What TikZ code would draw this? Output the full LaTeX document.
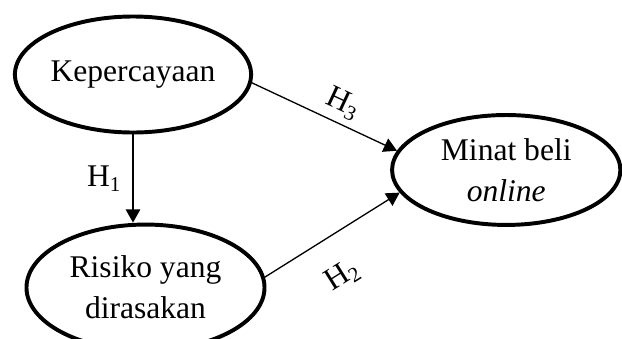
\documentclass[tikz,border=0pt]{standalone}
\usepackage{fontspec}
\setmainfont{Liberation Serif}
\usepackage{tikz}
\usetikzlibrary{positioning,shapes.geometric,arrows.meta}

\begin{document}
\begin{tikzpicture}[x=0.3802pt,y=-0.3802pt,
    var/.style={ellipse,draw,line width=1.5pt,inner sep=0pt,align=center,
      font=\fontsize{12}{15.5}\selectfont},
    hyp/.style={-{Triangle[length=5pt,width=5.5pt]},line width=0.5pt},
    lab/.style={inner sep=1pt,font=\fontsize{12}{14}\selectfont}]
  \useasboundingbox (0,0) rectangle (622,338);

  \node[var,minimum width=89.8pt,minimum height=44.1pt] (kep) at (133,74.5) {Kepercayaan};
  \node[var,minimum width=90.5pt,minimum height=47.9pt,below=33.5pt of kep,xshift=4.75pt] (ris) {Risiko yang\\dirasakan};
  \node[var,minimum width=86.8pt,minimum height=41.8pt,right=52.1pt of kep,yshift=-36.3pt] (min) {Minat beli\\\textit{online}};

  %kep>ris
  \draw[hyp] (kep.south) -- node[lab,left=3pt] {H\textsubscript{1}} (kep.south |- ris.north);
  %kep>min
  \draw[hyp] (kep.-4) -- node[lab,pos=0.57,sloped,above=1.5pt] {H\textsubscript{3}} (min.170);
  %ris>min
  \draw[hyp] (ris.5) -- node[lab,pos=0.42,sloped,below=9pt] {H\textsubscript{2}} (min.192);
\end{tikzpicture}
\end{document}
